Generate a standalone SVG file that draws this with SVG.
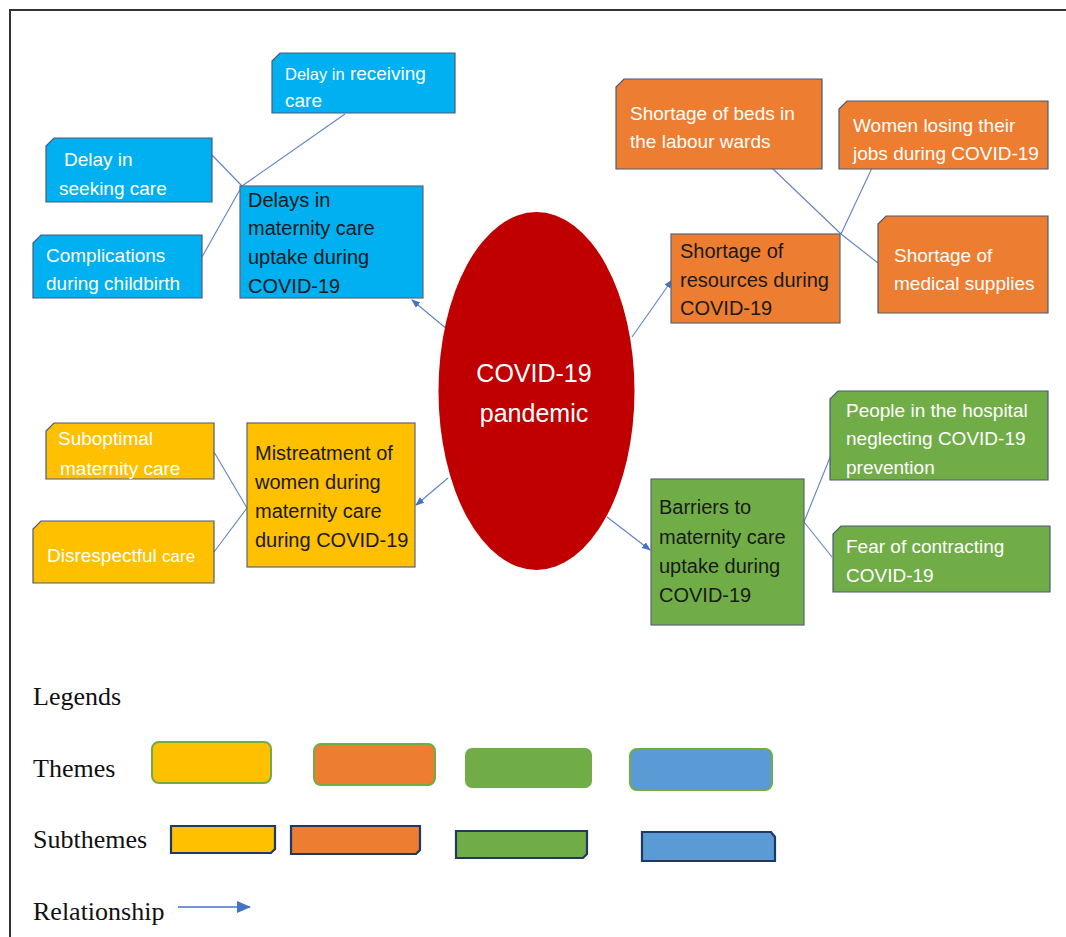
<svg xmlns="http://www.w3.org/2000/svg" width="1066" height="937" viewBox="0 0 1066 937">
<defs>
<style>
.sub{stroke:#4a5a78;stroke-width:1.2}
.thm{stroke:#5a6478;stroke-width:1.2}
.blue{fill:#00B0F0}.orange{fill:#ED7D31}.yellow{fill:#FFC000}.green{fill:#70AD47}.lblue{fill:#5B9BD5}
.st{font-family:"Liberation Sans",Arial,sans-serif;font-size:19px;fill:#ffffff}
.tt{font-family:"Liberation Sans",Arial,sans-serif;font-size:20px;fill:#1a1a1a}
.ct{font-family:"Liberation Sans",Arial,sans-serif;font-size:25px;fill:#ffffff;text-anchor:middle}
.lg{font-family:"Liberation Serif","Times New Roman",serif;font-size:26px;fill:#111111}
.ln{stroke:#5f82c8;stroke-width:1.1;fill:none}
.ar{stroke:#5f82c8;stroke-width:1.1;fill:none;marker-end:url(#ah)}
.lt{stroke:#70AD47;stroke-width:2}
.ls{stroke:#1F3864;stroke-width:2.2}
</style>
<marker id="ah" markerWidth="9" markerHeight="7" refX="8" refY="3.5" orient="auto" markerUnits="userSpaceOnUse">
<path d="M0,0 L9,3.5 L0,7 Z" fill="#4472C4"/>
</marker>
<marker id="ah2" markerWidth="14" markerHeight="12" refX="13" refY="6" orient="auto" markerUnits="userSpaceOnUse">
<path d="M0,0 L14,6 L0,12 Z" fill="#4472C4"/>
</marker>
<clipPath id="cSub"><rect x="46" y="423" width="168" height="56"/></clipPath>
<clipPath id="cPeople"><rect x="830" y="391" width="218" height="89"/></clipPath>
</defs>

<rect x="0" y="0" width="1066" height="937" fill="#ffffff"/>
<path d="M10,937 L10,10 L1066,10" fill="none" stroke="#333333" stroke-width="2"/>

<g id="connectors">
<line class="ln" x1="212" y1="155" x2="242" y2="186"/>
<line class="ln" x1="345" y1="114" x2="242" y2="186"/>
<line class="ln" x1="242" y1="186" x2="202" y2="257"/>
<line class="ln" x1="772" y1="168" x2="841" y2="234"/>
<line class="ln" x1="872" y1="168" x2="841" y2="234"/>
<line class="ln" x1="841" y1="234" x2="878" y2="263"/>
<line class="ln" x1="214" y1="452" x2="247" y2="508"/>
<line class="ln" x1="214" y1="552" x2="247" y2="508"/>
<line class="ln" x1="804" y1="522" x2="831" y2="455"/>
<line class="ln" x1="804" y1="522" x2="832" y2="557"/>
<line class="ar" x1="448" y1="330" x2="412" y2="300"/>
<line class="ar" x1="632" y1="337" x2="672" y2="280"/>
<line class="ar" x1="448" y1="478" x2="416" y2="505"/>
<line class="ar" x1="607" y1="517" x2="650" y2="550"/>
</g>

<g id="center">
<ellipse cx="536.5" cy="391" rx="98" ry="179" fill="#C00000"/>
<text class="ct" x="534" y="382">COVID-19</text>
<text class="ct" x="534" y="422">pandemic</text>
</g>

<g id="delay-receiving">
<path class="sub blue" d="M280,53 L455,53 L455,113 L272,113 L272,61 Z"/>
<text class="st" x="285" y="80" font-size="18"><tspan font-size="16.5">Delay in</tspan> receiving</text>
<text class="st" x="285" y="107" font-size="17">care</text>
</g>

<g id="delay-seeking">
<path class="sub blue" d="M54,138 L212,138 L212,202 L46,202 L46,146 Z"/>
<text class="st" x="64" y="166">Delay in</text>
<text class="st" x="59" y="195">seeking care</text>
</g>

<g id="complications">
<path class="sub blue" d="M41,235 L202,235 L202,298 L33,298 L33,243 Z"/>
<text class="st" x="46" y="262">Complications</text>
<text class="st" x="46" y="290">during childbirth</text>
</g>

<g id="theme-delays">
<rect class="thm blue" x="240" y="186" width="183" height="112"/>
<text class="tt" x="248" y="207">Delays in</text>
<text class="tt" x="248" y="235">maternity care</text>
<text class="tt" x="248" y="264">uptake during</text>
<text class="tt" x="248" y="293">COVID-19</text>
</g>

<g id="beds">
<path class="sub orange" d="M624,79 L822,79 L822,169 L616,169 L616,87 Z"/>
<text class="st" x="630" y="120">Shortage of beds in</text>
<text class="st" x="630" y="148">the labour wards</text>
</g>

<g id="jobs">
<path class="sub orange" d="M847,101 L1048,101 L1048,169 L839,169 L839,109 Z"/>
<text class="st" x="853" y="132">Women losing their</text>
<text class="st" x="853" y="160">jobs during COVID-19</text>
</g>

<g id="supplies">
<path class="sub orange" d="M886,216 L1048,216 L1048,313 L878,313 L878,224 Z"/>
<text class="st" x="894" y="262">Shortage of</text>
<text class="st" x="894" y="290">medical supplies</text>
</g>

<g id="theme-resources">
<rect class="thm orange" x="671" y="234" width="169" height="89"/>
<text class="tt" x="680" y="258">Shortage of</text>
<text class="tt" x="680" y="287">resources during</text>
<text class="tt" x="680" y="315">COVID-19</text>
</g>

<g id="suboptimal">
<path class="sub yellow" d="M54,423 L214,423 L214,479 L46,479 L46,431 Z"/>
<g clip-path="url(#cSub)">
<text class="st" x="58" y="445">Suboptimal</text>
<text class="st" x="60" y="475">maternity care</text>
</g>
</g>

<g id="disrespectful">
<path class="sub yellow" d="M41,521 L214,521 L214,583 L33,583 L33,529 Z"/>
<text class="st" x="47" y="562">Disrespectful <tspan font-size="17">care</tspan></text>
</g>

<g id="theme-mistreatment">
<rect class="thm yellow" x="247" y="423" width="168" height="144"/>
<text class="tt" x="255" y="460">Mistreatment of</text>
<text class="tt" x="255" y="489">women during</text>
<text class="tt" x="255" y="518">maternity care</text>
<text class="tt" x="255" y="547">during COVID-19</text>
</g>

<g id="theme-barriers">
<rect class="thm green" x="651" y="479" width="153" height="146"/>
<text class="tt" x="659" y="514">Barriers to</text>
<text class="tt" x="659" y="544">maternity care</text>
<text class="tt" x="659" y="573">uptake during</text>
<text class="tt" x="659" y="602">COVID-19</text>
</g>

<g id="people">
<path class="sub green" d="M838,391 L1048,391 L1048,480 L830,480 L830,399 Z"/>
<g clip-path="url(#cPeople)">
<text class="st" x="846" y="417">People in the hospital</text>
<text class="st" x="846" y="445">neglecting COVID-19</text>
<text class="st" x="846" y="474">prevention</text>
</g>
</g>

<g id="fear">
<path class="sub green" d="M841,526 L1050,526 L1050,592 L833,592 L833,534 Z"/>
<text class="st" x="846" y="553">Fear of contracting</text>
<text class="st" x="846" y="582">COVID-19</text>
</g>

<g id="legend">
<text class="lg" x="33" y="705">Legends</text>
<text class="lg" x="33" y="777">Themes</text>
<text class="lg" x="33" y="848">Subthemes</text>
<text class="lg" x="33" y="920">Relationship</text>
<rect class="lt yellow" x="152" y="742" width="119" height="41" rx="7"/>
<rect class="lt orange" x="314" y="744" width="121" height="41" rx="7"/>
<rect class="green" x="465" y="748" width="127" height="40" rx="7"/>
<rect class="lt lblue" x="630" y="749" width="142" height="41" rx="7"/>
<path class="ls yellow" d="M171,826 L275,826 L275,849 L271,853 L171,853 Z"/>
<path class="ls orange" d="M291,826 L420,826 L420,850 L416,854 L291,854 Z"/>
<path class="ls green" d="M456,831 L587,831 L587,854 L583,858 L456,858 Z"/>
<path class="ls lblue" d="M642,832 L771,832 L775,837 L775,861 L642,861 Z"/>
<line x1="178" y1="907" x2="250" y2="907" stroke="#4472C4" stroke-width="1.3" marker-end="url(#ah2)"/>
</g>
</svg>
